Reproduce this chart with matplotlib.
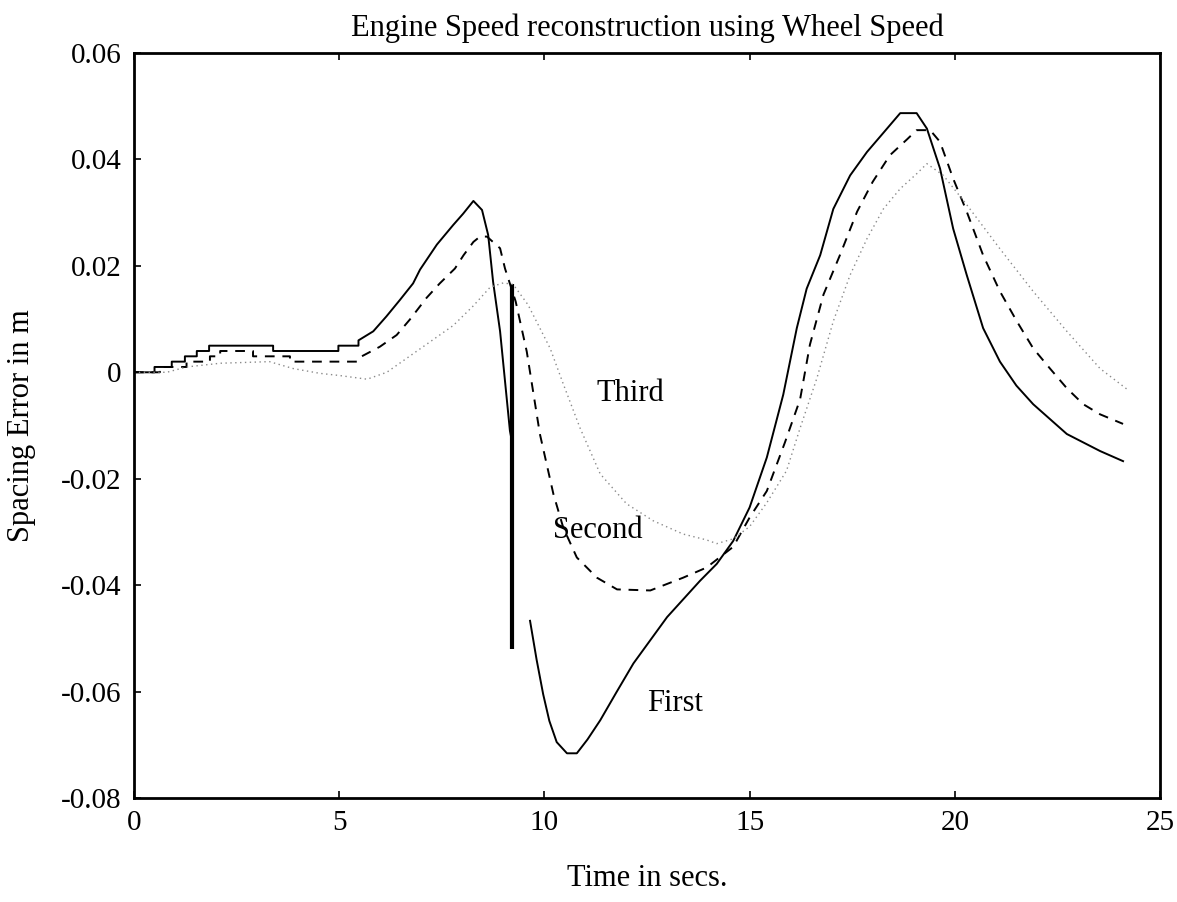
import matplotlib
matplotlib.use("Agg")
import matplotlib.pyplot as plt
import numpy as np

# ---- data (time in s, spacing error in m) ----
first_x1 = [0, 0.5, 0.5, 0.92, 0.92, 1.24, 1.24, 1.53, 1.53, 1.83, 1.83, 3.39, 3.39,
            4.98, 4.98, 5.47, 5.47, 5.83, 6.15, 6.48, 6.8, 6.97, 7.38, 7.78, 8.02,
            8.27, 8.48, 8.63, 8.75, 8.92, 9.16, 9.21]
first_y1 = [0, 0, 0.001, 0.001, 0.002, 0.002, 0.003, 0.003, 0.004, 0.004, 0.005, 0.005, 0.004,
            0.004, 0.005, 0.005, 0.006, 0.0077, 0.0105, 0.0136, 0.0167, 0.0193, 0.024, 0.0277, 0.0298,
            0.0322, 0.0305, 0.0258, 0.017, 0.0077, -0.011, -0.013]
first_x2 = [9.65, 9.81, 9.97, 10.12, 10.3, 10.55, 10.79, 11.05, 11.36, 11.75, 12.17, 12.99,
            13.79, 14.2, 14.6, 15.0, 15.42, 15.82, 16.15, 16.39, 16.72, 17.04, 17.45, 17.86,
            18.26, 18.67, 19.07, 19.32, 19.64, 19.96, 20.29, 20.69, 21.1, 21.5, 21.91, 22.73,
            23.54, 24.1]
first_y2 = [-0.0467, -0.054, -0.0605, -0.0655, -0.0695, -0.0716, -0.0716, -0.069, -0.0654,
            -0.0602, -0.0547, -0.046, -0.0392, -0.036, -0.0317, -0.0254, -0.016, -0.0042,
            0.0083, 0.0157, 0.022, 0.0307, 0.037, 0.0414, 0.045, 0.0487, 0.0487, 0.0458,
            0.0383, 0.027, 0.0183, 0.0083, 0.002, -0.0025, -0.006, -0.0116, -0.0148, -0.0167]
# the sharp glitch drawn at t ~ 9.2 s
jump_x = 9.21
jump_y = [0.0165, -0.052]

second_x = [0, 0.63, 0.63, 1.28, 1.28, 1.85, 1.85, 2.1, 2.1, 2.9, 2.9, 3.8, 3.8, 5.43, 5.5,
            5.99, 6.4, 6.72, 7.13, 7.45, 7.82, 8.03, 8.27, 8.43, 8.6, 8.92, 9.04, 9.3, 9.57,
            9.89, 10.22, 10.46, 10.79, 11.28, 11.77, 12.58, 13.38, 13.95, 14.6, 15.0, 15.42,
            15.86, 16.23, 16.47, 16.8, 17.2, 17.62, 18.0, 18.42, 18.84, 19.07, 19.4, 19.64,
            19.96, 20.29, 20.69, 21.1, 21.51, 21.91, 22.32, 22.73, 23.13, 23.54, 24.1]
second_y = [0, 0, 0.001, 0.001, 0.002, 0.002, 0.003, 0.003, 0.004, 0.004, 0.003, 0.003, 0.002,
            0.002, 0.0028, 0.0048, 0.007, 0.0099, 0.014, 0.0167, 0.0195, 0.022, 0.0245, 0.0255,
            0.0255, 0.0233, 0.0195, 0.0133, 0.0039, -0.0116, -0.0229, -0.0292, -0.0348, -0.0386,
            -0.0408, -0.041, -0.0386, -0.0367, -0.0328, -0.0273, -0.0223, -0.0132, -0.0051,
            0.0052, 0.0146, 0.022, 0.0302, 0.0358, 0.0408, 0.0438, 0.0455, 0.0455, 0.0433,
            0.0364, 0.0302, 0.022, 0.0152, 0.0096, 0.0045, 0.0007, -0.003, -0.006, -0.0079,
            -0.0097]

third_x = [0, 0.8, 1.28, 2.1, 3.3, 3.88, 4.53, 5.0, 5.68, 6.16, 6.97, 7.78, 8.27, 8.68, 9.0,
           9.24, 9.6, 10.14, 10.46, 10.87, 11.36, 12.0, 12.65, 13.38, 13.95, 14.2, 14.6, 15.0,
           15.42, 15.9, 16.23, 16.64, 17.04, 17.45, 17.86, 18.26, 18.67, 19.07, 19.32, 19.72,
           20.29, 21.1, 21.91, 22.73, 23.54, 24.2]
third_y = [0, 0, 0.001, 0.0017, 0.002, 0.0007, -0.0002, -0.0006, -0.0013, 0.0, 0.0044, 0.0088,
           0.0125, 0.016, 0.0168, 0.0165, 0.0127, 0.0045, -0.0022, -0.0105, -0.0191, -0.0247,
           -0.0279, -0.0304, -0.0315, -0.0322, -0.0313, -0.029, -0.0245, -0.0185, -0.0105,
           -0.0011, 0.0096, 0.0183, 0.0251, 0.0307, 0.0345, 0.0373, 0.0392, 0.037, 0.0315,
           0.0232, 0.0152, 0.0077, 0.0007, -0.0032]

labels = ["First", "Second", "Third"]
label_x = [13.18, 11.3, 12.09]
label_y = [-0.0622, -0.0298, -0.0039]

x_ticks = [0, 5, 10, 15, 20, 25]
y_ticks = [0.06, 0.04, 0.02, 0, -0.02, -0.04, -0.06, -0.08]
y_ticklabels = ["0.06", "0.04", "0.02", "0", "-0.02", "-0.04", "-0.06", "-0.08"]

plt.rcParams['font.family'] = ['Liberation Serif', 'DejaVu Serif']

fig = plt.figure(figsize=(11.77, 9.02), dpi=100)
ax = fig.add_axes([134 / 1177, 1 - 798 / 902, (1160 - 134) / 1177, (798 - 53) / 902])

ax.plot(first_x1, first_y1, color='black', linewidth=1.4)
ax.plot(first_x2, first_y2, color='black', linewidth=1.4)
ax.vlines(jump_x, jump_y[1], jump_y[0], color='black', linewidth=3.0)
ax.plot(second_x, second_y, color='black', linewidth=1.4, linestyle=(0, (5, 4)))
ax.plot(third_x, third_y, color='#8a8a8a', linewidth=1.0, linestyle=(0, (1, 2.5)))

for t, lx, ly in zip(labels, label_x, label_y):
    ax.text(lx, ly, t, fontsize=22, ha='center', va='center')

ax.set_xlim(0, 25)
ax.set_ylim(-0.08, 0.06)
ax.set_xticks(x_ticks)
ax.set_xticklabels([str(v) for v in x_ticks], fontsize=21)
ax.set_yticks(y_ticks)
ax.set_yticklabels(y_ticklabels, fontsize=21)
ax.tick_params(direction='in', length=5, width=1.2, top=True, right=False, pad=9)
for s in ax.spines.values():
    s.set_linewidth(2.0)

ax.set_title('Engine Speed reconstruction using Wheel Speed', fontsize=22, pad=12)
ax.set_xlabel('Time in secs.', fontsize=22, labelpad=20)
ax.set_ylabel('Spacing Error in m', fontsize=22, labelpad=18)

fig.savefig('out.png', dpi=100)
